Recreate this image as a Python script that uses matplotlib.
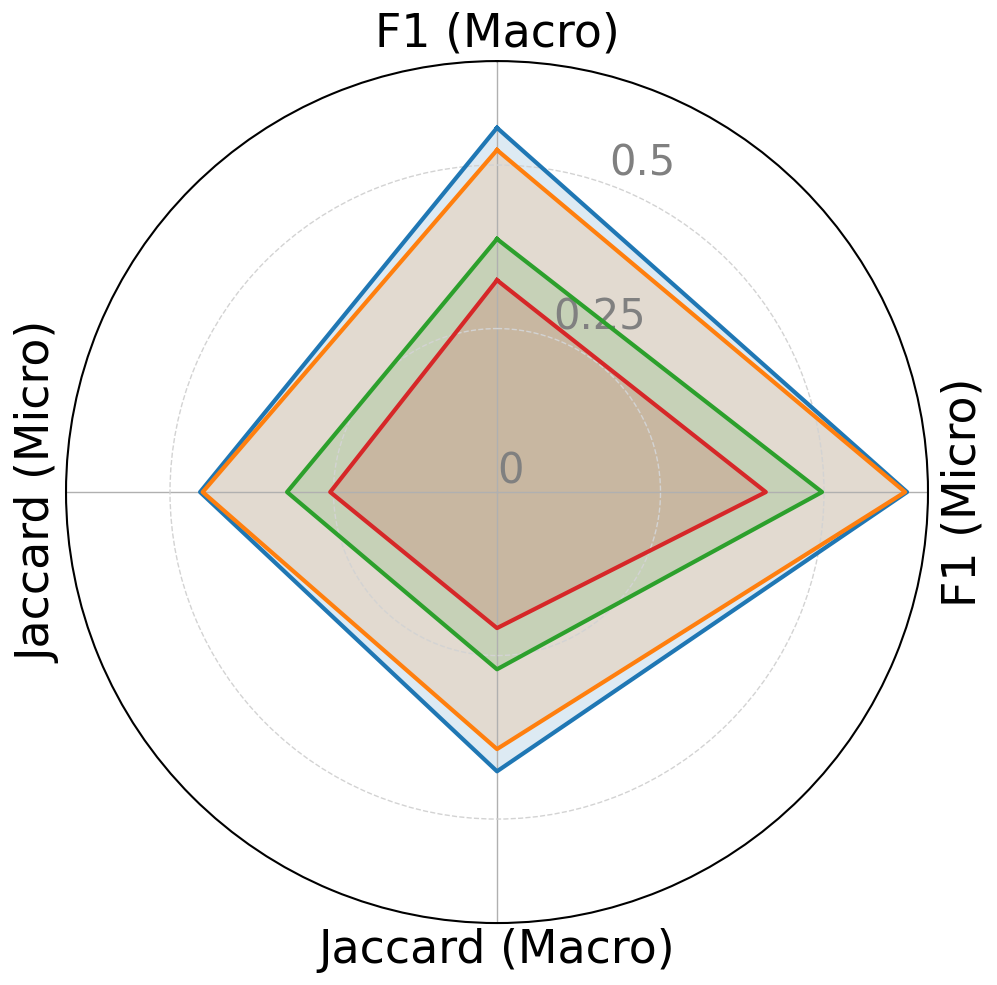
import numpy as np
import matplotlib.pyplot as plt

# metrics on the spokes (clockwise from top)
categories = ["F1 (Macro)", "F1 (Micro)", "Jaccard (Macro)", "Jaccard (Micro)"]

# one list per model, same order as categories
model_1 = [0.557, 0.627, 0.427, 0.454]
model_2 = [0.523, 0.624, 0.393, 0.450]
model_3 = [0.387, 0.497, 0.271, 0.321]
model_4 = [0.324, 0.411, 0.208, 0.255]
colors = ["tab:blue", "tab:orange", "tab:green", "tab:red"]

r_ticks = [0, 0.25, 0.5]
r_tick_labels = ["0", "0.25", "0.5"]

angles = np.linspace(0, 2 * np.pi, len(categories), endpoint=False).tolist()
angles += angles[:1]

fig = plt.figure(figsize=(9.97, 9.85), dpi=100)
ax = fig.add_axes([0.0662, 0.0629, 0.8646, 0.8751], projection="polar")
ax.set_theta_offset(np.pi / 2)
ax.set_theta_direction(-1)

for vals, c in zip([model_1, model_2, model_3, model_4], colors):
    v = vals + vals[:1]
    ax.plot(angles, v, color=c, linewidth=3)
    ax.fill(angles, v, color=c, alpha=0.15)

ax.set_ylim(0, 0.659)
ax.set_yticks(r_ticks)
ax.set_yticklabels(r_tick_labels, color="gray", fontsize=30)
ax.set_rlabel_position(20)

# spoke labels drawn by hand so the side ones can stand upright
ax.set_xticks(angles[:-1])
ax.set_xticklabels([])
for lab, ang in zip(categories, angles[:-1]):
    rot = 90 if abs(np.sin(ang)) > 0.5 else 0
    r = 0.713 if np.sin(ang) > 0.5 else 0.701
    ax.text(ang, r, lab, fontsize=33, rotation=rot,
            ha="center", va="center", clip_on=False)

ax.yaxis.grid(True, linestyle="--", color="lightgray", linewidth=1)
ax.xaxis.grid(True, linestyle="-", color="#b0b0b0", linewidth=1)
ax.spines["polar"].set_linewidth(1.5)

fig.savefig("out.png", dpi=100)
